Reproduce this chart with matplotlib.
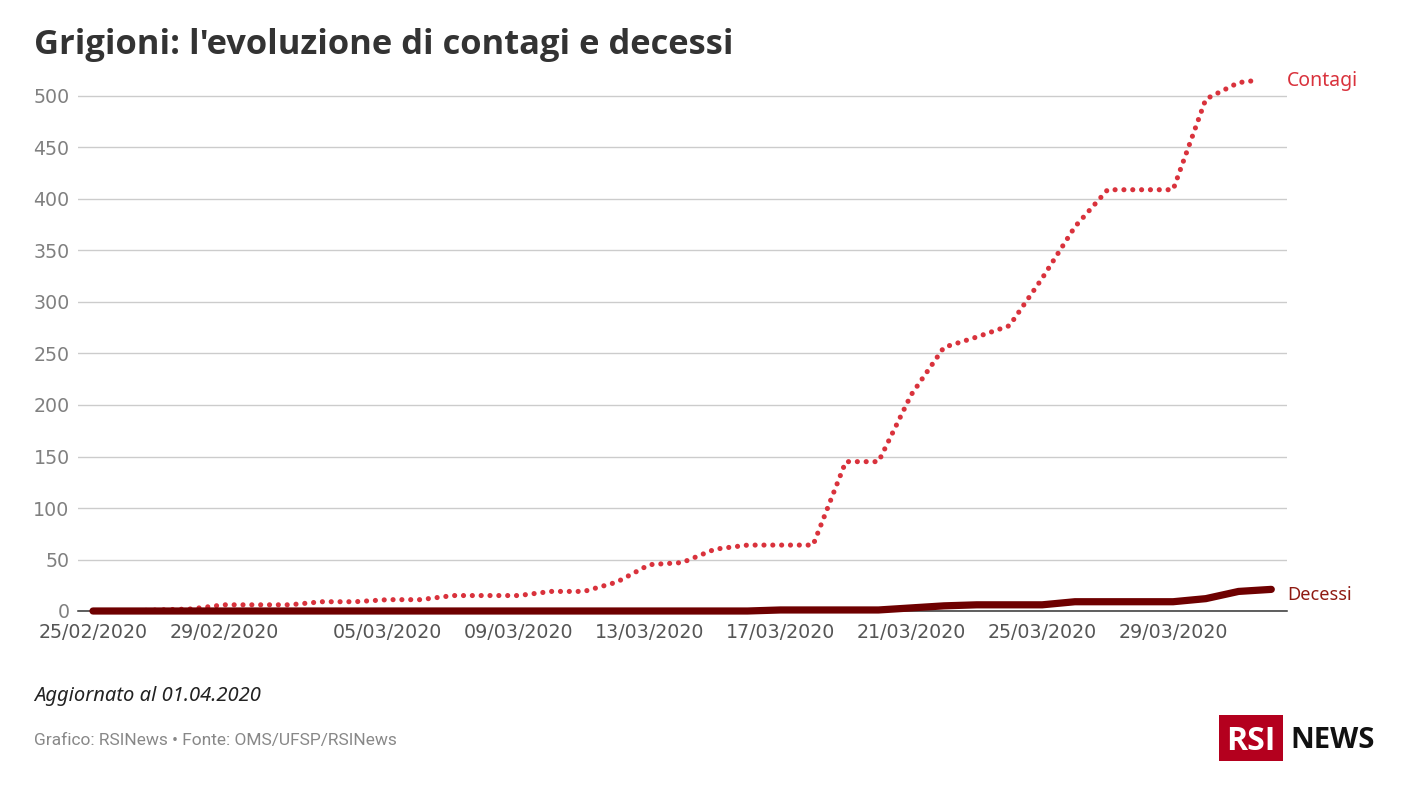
"""
Grigioni: evoluzione di contagi e decessi (RSI News)
"""

import pandas as pd
import matplotlib
matplotlib.use("Agg")
import matplotlib.pyplot as plt
import matplotlib.dates as mdates
from matplotlib.patches import Rectangle

# ============================================================
# DATA
# ============================================================

dates = pd.date_range("2020-02-25", "2020-04-01", freq="D")

contagi = [0, 0, 1, 2, 6, 6, 6, 9, 9, 11, 11, 15, 15, 15, 19, 19, 28, 45, 47,
           60, 64, 64, 64, 145, 145, 210, 256, 266, 277, 323, 373, 409, 409,
           409, 497, 513, 515]
# the red line stops half way through the last day
contagi_dates = list(dates[:-1]) + [pd.Timestamp("2020-03-31 12:00")]

decessi = [0, 0, 0, 0, 0, 0, 0, 0, 0, 0, 0, 0, 0, 0, 0, 0, 0, 0, 0,
           0, 0, 1, 1, 1, 1, 3, 5, 6, 6, 6, 9, 9, 9, 9, 12, 19, 21]

x_ticks = ["25/02/2020", "29/02/2020", "05/03/2020", "09/03/2020", "13/03/2020",
           "17/03/2020", "21/03/2020", "25/03/2020", "29/03/2020"]
y_ticks = [0, 50, 100, 150, 200, 250, 300, 350, 400, 450, 500]

RED = "#d9323c"
DARK = "#6e0000"
W, H = 1408, 792

# ============================================================
# PLOT
# ============================================================

plt.rcParams["font.family"] = ["Noto Sans", "DejaVu Sans"]

fig = plt.figure(figsize=(W / 100, H / 100), dpi=100)
ax = fig.add_axes([78 / W, (H - 611) / H, (1287 - 78) / W, 541 / H])

ax.plot(contagi_dates, contagi, color=RED, linewidth=3.7,
        linestyle=(0, (0.01, 1.71)), dash_capstyle="round", clip_on=False, zorder=3)
ax.plot(dates, decessi, color=DARK, linewidth=5.2,
        solid_capstyle="round", solid_joinstyle="round", clip_on=False, zorder=4)

day = pd.Timedelta(days=1)
ax.set_xlim(dates[0] - day * 15 / 32.73, dates[0] + day * (1287 - 93) / 32.73)
ax.set_ylim(0, 541 / 1.03)

tick_pos = pd.to_datetime(x_ticks, format="%d/%m/%Y")
ax.set_xticks(mdates.date2num(tick_pos))
ax.set_xticklabels(x_ticks, family="DejaVu Sans", fontsize=13.7, color="#555555")
ax.set_yticks(y_ticks)
ax.set_yticklabels([str(v) for v in y_ticks], family="DejaVu Sans", fontsize=13.7,
                   color="#808080")
ax.tick_params(length=0)
ax.tick_params(axis="x", pad=9)
ax.tick_params(axis="y", pad=6)

ax.grid(True, axis="y", color="#cccccc", linewidth=1.0)
ax.set_axisbelow(True)
for side in ["top", "left", "right"]:
    ax.spines[side].set_visible(False)
ax.spines["bottom"].set_color("#333333")
ax.spines["bottom"].set_linewidth(1.1)

# ============================================================
# TEXT
# ============================================================

def px_text(x, y, s, **kw):
    kw.setdefault("va", "center")
    return fig.text(x / W, 1 - y / H, s, **kw)

px_text(34, 45, "Grigioni: l'evoluzione di contagi e decessi", fontsize=24.8,
        family="Open Sans", fontweight="bold", color="#333333")
px_text(1287, 81, "Contagi", fontsize=14, color=RED)
px_text(1287, 595, "Decessi", fontsize=13.1, color="#8f1a12")
px_text(34, 696, "Aggiornato al 01.04.2020", fontsize=14.5, style="italic", color="#222222")
px_text(34, 741, "Grafico: RSINews • Fonte: OMS/UFSP/RSINews", fontsize=12.5,
        family="Roboto", color="#888888")

# logo
fig.add_artist(Rectangle((1219 / W, 1 - 761 / H), 64 / W, 46 / H,
                         transform=fig.transFigure, color="#b4001e", linewidth=0))
px_text(1251, 741, "RSI", fontsize=23, family="Open Sans", fontweight="bold",
        color="white", ha="center")
px_text(1290, 741, "NEWS", fontsize=21, family="Open Sans", fontweight="bold",
        color="#111111")

fig.savefig("out.png", dpi=100)
